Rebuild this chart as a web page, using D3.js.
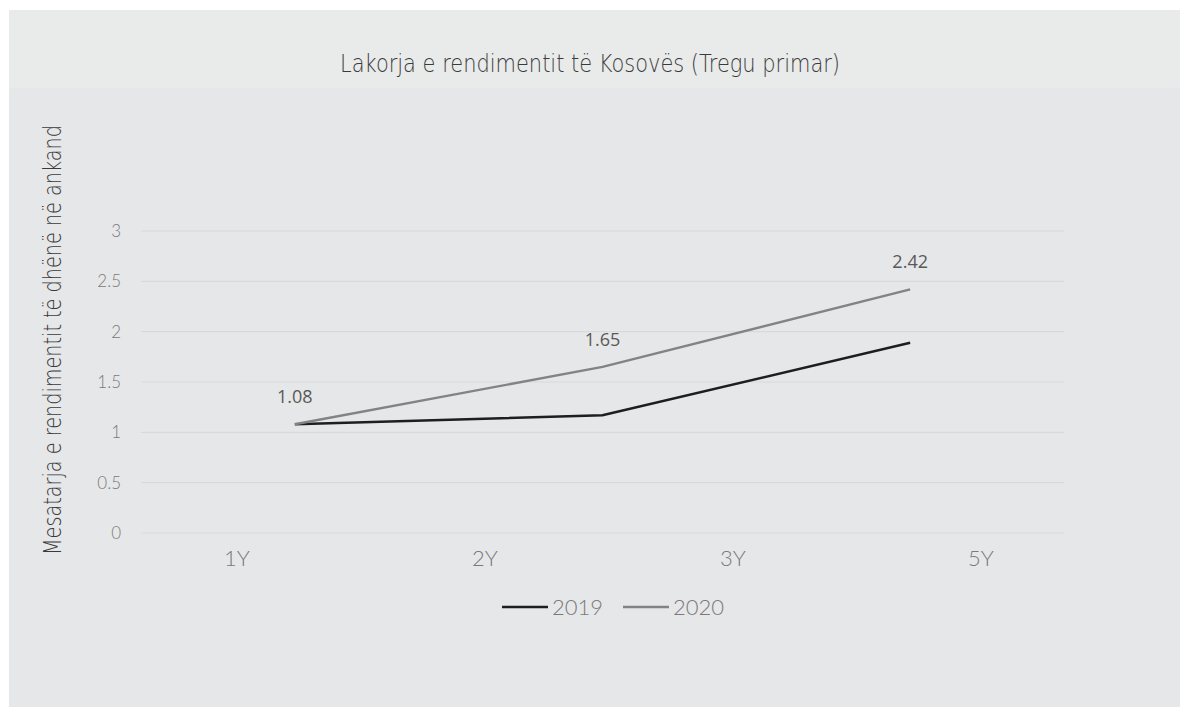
<!DOCTYPE html>
<html>
<head>
<meta charset="utf-8">
<script src="https://cdn.jsdelivr.net/npm/d3@7"></script>
<style>
  html, body { margin: 0; padding: 0; background: #ffffff; }
  svg { display: block; }
</style>
</head>
<body>
<svg id="chart" width="1180" height="707"></svg>
<script>
// Maturity labels shown on the category axis
const categories = ["1Y", "2Y", "3Y", "5Y"];
// Auction points plotted for each year (three observations per series)
const pointIndex = [0, 1, 2];
const values2019 = [1.08, 1.17, 1.89];
const values2020 = [1.08, 1.65, 2.42];
const seriesNames = ["2019", "2020"];
const yTicks = [0, 0.5, 1, 1.5, 2, 2.5, 3];

const titleText = "Lakorja e rendimentit të Kosovës (Tregu primar)";
const yTitleText = "Mesatarja e rendimentit të dhënë në ankand";

const svg = d3.select("#chart");
const W = 1180, H = 707;

// chart panel background
svg.append("rect").attr("x", 9).attr("y", 10).attr("width", W - 9).attr("height", H - 10)
  .attr("fill", "#e6e7e9");
svg.append("rect").attr("x", 9).attr("y", 10).attr("width", W - 9).attr("height", 78)
  .attr("fill", "#e9eaea");

const plot = { left: 141, right: 1064, top: 231, bottom: 533 };

const y = d3.scaleLinear().domain([0, 3]).range([plot.bottom, plot.top]);
const xLine = d3.scaleBand().domain(pointIndex).range([plot.left, plot.right]);
const xLabel = d3.scaleBand().domain(categories).range([113, 1105]);

// horizontal gridlines
svg.append("g").selectAll("line").data(yTicks).join("line")
  .attr("x1", plot.left).attr("x2", plot.right)
  .attr("y1", d => y(d)).attr("y2", d => y(d))
  .attr("stroke", "#d8d9db").attr("stroke-width", 1.2);

// y tick labels
svg.append("g").selectAll("text").data(yTicks).join("text")
  .attr("x", 121).attr("y", d => y(d))
  .attr("dy", "0.36em")
  .attr("text-anchor", "end")
  .attr("font-family", "Lato, 'Open Sans', sans-serif")
  .attr("font-weight", 300)
  .attr("font-size", 17)
  .attr("fill", "#7a7a7a")
  .text(d => d);

// x category labels
svg.append("g").selectAll("text").data(categories).join("text")
  .attr("x", d => xLabel(d) + xLabel.bandwidth() / 2)
  .attr("y", 566)
  .attr("text-anchor", "middle")
  .attr("font-family", "Lato, 'Open Sans', sans-serif")
  .attr("font-weight", 300)
  .attr("font-size", 22)
  .attr("fill", "#7a7a7a")
  .text(d => d);

const cx = i => xLine(i) + xLine.bandwidth() / 2;
const line = d3.line().x((d, i) => cx(i)).y(d => y(d));

const series = [
  { name: seriesNames[0], values: values2019, color: "#1e1e1e" },
  { name: seriesNames[1], values: values2020, color: "#838383" }
];

svg.append("g").selectAll("path").data(series).join("path")
  .attr("d", d => line(d.values))
  .attr("fill", "none")
  .attr("stroke", d => d.color)
  .attr("stroke-width", 2.4)
  .attr("stroke-linejoin", "miter");

// value labels for the 2020 series
svg.append("g").selectAll("text").data(values2020).join("text")
  .attr("x", (d, i) => cx(i))
  .attr("y", d => y(d) - 21)
  .attr("text-anchor", "middle")
  .attr("font-family", "'Open Sans', sans-serif")
  .attr("font-size", 18)
  .attr("fill", "#595959")
  .text(d => d.toFixed(2));

// title
svg.append("text")
  .attr("x", 590).attr("y", 72)
  .attr("text-anchor", "middle")
  .attr("font-family", "'DejaVu Sans', sans-serif")
  .attr("font-weight", 200)
  .attr("font-size", 25)
  .attr("fill", "#3a3a3a")
  .attr("textLength", 500)
  .attr("lengthAdjust", "spacingAndGlyphs")
  .text(titleText);

// y axis title
svg.append("text")
  .attr("transform", "translate(61,340) rotate(-90)")
  .attr("text-anchor", "middle")
  .attr("font-family", "'DejaVu Sans', sans-serif")
  .attr("font-weight", 200)
  .attr("font-size", 25)
  .attr("fill", "#3a3a3a")
  .attr("textLength", 430)
  .attr("lengthAdjust", "spacingAndGlyphs")
  .text(yTitleText);

// legend
const legendX = [502, 623];
const legend = svg.append("g").selectAll("g").data(series).join("g")
  .attr("transform", (d, i) => `translate(${legendX[i]},607)`);
legend.append("line")
  .attr("x1", 0).attr("x2", 46).attr("y1", 0).attr("y2", 0)
  .attr("stroke", d => d.color).attr("stroke-width", 2.4);
legend.append("text")
  .attr("x", 50).attr("y", 0).attr("dy", "0.36em")
  .attr("font-family", "Lato, 'Open Sans', sans-serif")
  .attr("font-weight", 300)
  .attr("font-size", 22)
  .attr("fill", "#7a7a7a")
  .text(d => d.name);
</script>
</body>
</html>
